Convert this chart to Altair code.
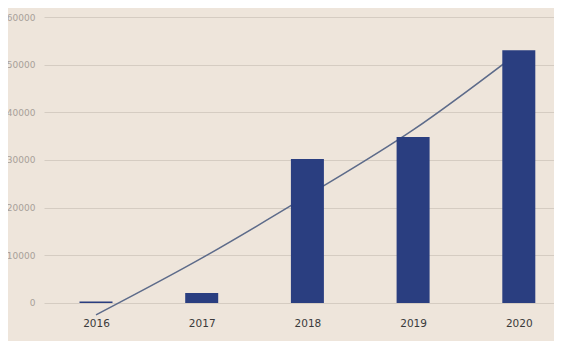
import json
import altair as alt
import pandas as pd

years = ["2016", "2017", "2018", "2019", "2020"]
sales = [300, 2100, 30200, 34800, 53000]
trend = [-2500, 9400, 22500, 36300, 52600]
y_ticks = [-10000, 0, 10000, 20000, 30000, 40000, 50000, 60000]

df = pd.DataFrame({"idx": list(range(len(years))), "year": years,
                   "value": sales, "trend": trend})

BG = "#eee5db"
BAR = "#2a3e80"
LINE = "#5d6b8a"

x_scale = alt.Scale(domain=[-0.492, 4.333], nice=False, zero=False, padding=0)
y_scale = alt.Scale(domain=[-7990, 60000], nice=False, zero=False, padding=0)

x_enc = alt.X(
    "idx:Q",
    title=None,
    scale=x_scale,
    axis=alt.Axis(
        orient="bottom", offset=-38, domain=False, ticks=False, grid=False,
        values=list(range(len(years))),
        labelExpr=json.dumps(years) + "[datum.value]",
        labelAngle=0, labelFont="DejaVu Sans", labelFontSize=10.5,
        labelColor="#3a3a3a", labelPadding=15,
    ),
)

bars = alt.Chart(df).mark_bar(size=33, color=BAR).encode(
    x=x_enc,
    y=alt.Y(
        "value:Q", scale=y_scale, title=None,
        axis=alt.Axis(
            values=y_ticks, domain=False, ticks=False, grid=True,
            gridColor="#d5ccc2", gridWidth=1, labelFont="DejaVu Sans",
            labelFontSize=9, labelColor="#a8a099", labelPadding=9,
            format="d",
        ),
    ),
)

line = alt.Chart(df).mark_line(color=LINE, strokeWidth=1.5, interpolate="monotone").encode(
    x=alt.X("idx:Q"),
    y=alt.Y("trend:Q"),
)

chart = (
    alt.layer(line, bars)
    .properties(
        width=510, height=324, background=BG,
        autosize=alt.AutoSizeParams(type="none"),
        padding={"left": 36, "top": 9, "right": 0, "bottom": 0},
    )
    .configure_view(stroke=None)
)

chart.save("out.html", embed_options={"renderer": "svg", "actions": False})
